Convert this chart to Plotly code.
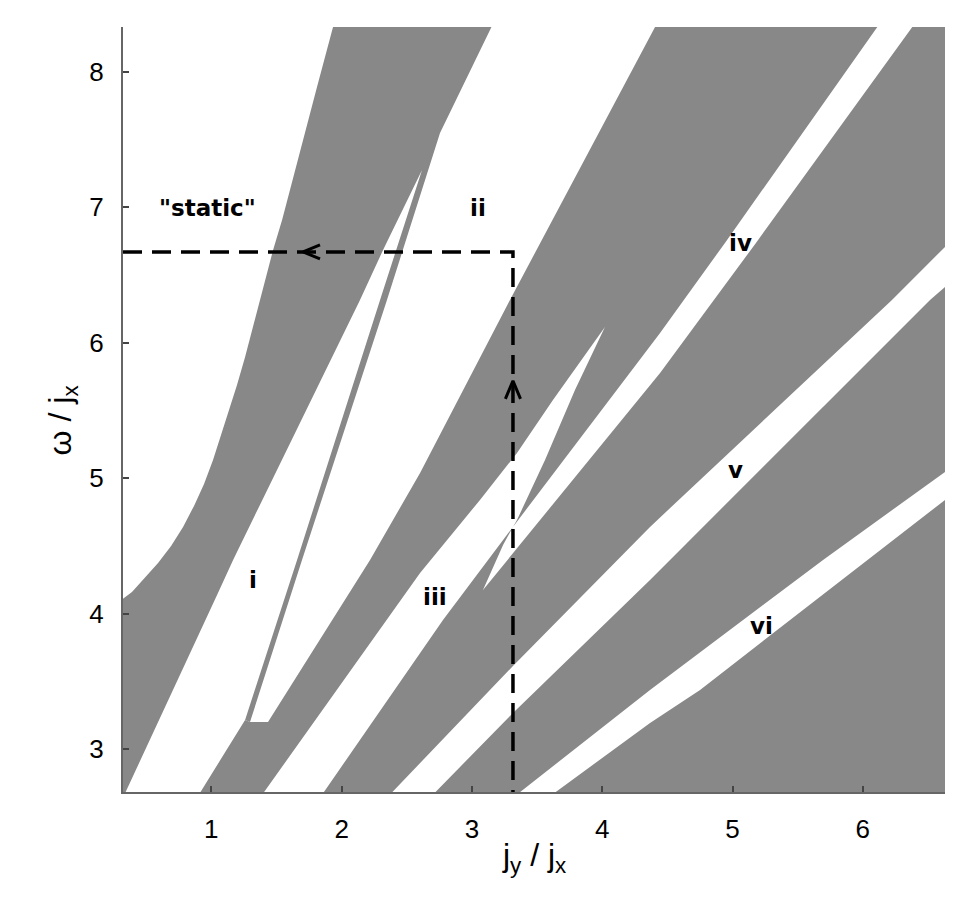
import plotly.graph_objects as go

# axis limits (j_y/j_x horizontally, omega/j_x vertically)
x_lim = [0.322, 6.631]
y_lim = [2.682, 8.332]
x_ticks = [1, 2, 3, 4, 5, 6]
y_ticks = [3, 4, 5, 6, 7, 8]

# gray (unstable) regions, traced as polygons in data units
# band A with the thin spur that joins band B
band_a_x = [0.30, 0.30, 0.391, 0.491, 0.591, 0.691, 0.783, 0.867, 0.944, 1.013, 1.074,
            1.136, 1.197, 1.259, 1.312, 1.366, 1.420, 1.474, 1.543, 1.681, 1.811, 1.934,
            1.934, 3.15, 3.15, 2.755, 2.348, 1.696, 1.297, 1.259, 1.658, 2.295, 2.617,
            2.318, 2.141, 1.167, 1.051, 0.322]
band_a_y = [2.64, 4.093, 4.160, 4.263, 4.374, 4.499, 4.640, 4.795, 4.957, 5.134, 5.312,
            5.496, 5.688, 5.895, 6.095, 6.294, 6.493, 6.685, 6.907, 7.402, 7.889, 8.332,
            8.36, 8.36, 8.332, 7.549, 6.316, 4.396, 3.199, 3.214, 4.396, 6.316, 7.276,
            6.685, 6.316, 4.396, 4.152, 2.64]

# band B, merging above the lens tip with the wedge left of band iv
band_b_x = [0.890, 1.259, 1.297, 1.435, 2.218, 2.602, 3.292, 4.421, 6.132, 4.942, 4.444,
            3.315, 3.346, 3.561, 3.791, 4.021, 3.622, 3.346, 3.062, 2.602, 1.374]
band_b_y = [2.64, 3.214, 3.199, 3.199, 4.396, 5.038, 6.316, 8.36, 8.36, 6.737, 6.072,
            4.640, 4.691, 5.134, 5.651, 6.117, 5.578, 5.186, 4.839, 4.300, 2.64]

# band between iii/iv and v
band_e_x = [1.834, 2.778, 3.315, 3.239, 3.085, 4.444, 5.180, 6.401, 6.66, 6.66, 6.631,
            6.224, 4.367, 3.315, 2.348]
band_e_y = [2.64, 3.953, 4.640, 4.507, 4.174, 5.777, 6.737, 8.36, 8.36, 6.708, 6.708,
            6.316, 4.640, 3.613, 2.64]

# band between v and vi
band_f_x = [2.678, 3.315, 4.367, 6.516, 6.631, 6.66, 6.66, 6.631, 5.695, 4.367, 3.315]
band_f_y = [2.64, 3.266, 4.248, 6.316, 6.412, 6.412, 5.046, 5.046, 4.396, 3.436, 2.64]

# region right of vi
band_g_x = [3.584, 4.367, 4.751, 6.032, 6.631, 6.66, 6.66]
band_g_y = [2.64, 3.192, 3.436, 4.396, 4.839, 4.839, 2.64]

# dashed path and its arrow heads
path_x = [x_lim[0], 3.315, 3.315]
path_y = [6.671, 6.671, y_lim[0]]
arrow_left_x = [1.834, 1.704, 1.834]
arrow_left_y = [6.723, 6.671, 6.619]
arrow_up_x = [3.257, 3.315, 3.373]
arrow_up_y = [5.585, 5.718, 5.585]

# region labels
label_text = ['"static"', 'ii', 'iv', 'v', 'i', 'iii', 'vi']
label_x = [0.97, 3.05, 5.06, 5.02, 1.32, 2.72, 5.22]
label_y = [6.996, 6.996, 6.74, 5.06, 4.25, 4.12, 3.91]

gray = '#888888'

fig = go.Figure()

for bx, by in [(band_a_x, band_a_y), (band_b_x, band_b_y), (band_e_x, band_e_y),
               (band_f_x, band_f_y), (band_g_x, band_g_y)]:
    fig.add_trace(go.Scatter(x=bx, y=by, mode='lines', fill='toself', fillcolor=gray,
                             line=dict(width=0, color=gray), hoverinfo='skip',
                             showlegend=False))

fig.add_trace(go.Scatter(x=path_x, y=path_y, mode='lines',
                         line=dict(color='black', width=3.5, dash='19px,10px'),
                         hoverinfo='skip', showlegend=False))
for ax_, ay_ in [(arrow_left_x, arrow_left_y), (arrow_up_x, arrow_up_y)]:
    fig.add_trace(go.Scatter(x=ax_, y=ay_, mode='lines',
                             line=dict(color='black', width=3),
                             hoverinfo='skip', showlegend=False))

for t, lx, ly in zip(label_text, label_x, label_y):
    fig.add_annotation(x=lx, y=ly, text=t, showarrow=False,
                       font=dict(family='DejaVu Sans', size=23, color='black',
                                 weight='bold'))

# axis titles
title_font = dict(family='Liberation Sans', size=32, color='black')
fig.add_annotation(text='j<sub>y</sub> / j<sub>x</sub>', xref='paper', yref='paper',
                   x=0.5, y=-0.086, yanchor='middle', showarrow=False, font=title_font)
fig.add_annotation(text='ω / j<sub>x</sub>', xref='paper', yref='paper',
                   x=-0.074, y=0.486, xanchor='center', yanchor='middle',
                   textangle=-90, showarrow=False, font=title_font)

axis_font = dict(family='Liberation Sans', size=26, color='black')
fig.update_xaxes(range=x_lim, tickvals=x_ticks, ticks='inside', ticklen=6,
                 tickwidth=1.5, tickcolor='#444444', showline=True, linecolor='#666666',
                 linewidth=2, showgrid=False, zeroline=False, tickfont=axis_font,
                 ticklabelstandoff=13)
fig.update_yaxes(range=y_lim, tickvals=y_ticks, ticks='inside', ticklen=6,
                 tickwidth=1.5, tickcolor='#444444', showline=True, linecolor='#666666',
                 linewidth=2, showgrid=False, zeroline=False, tickfont=axis_font,
                 ticklabelstandoff=12)

# page body adds an 8px margin, so the figure is sized to fit inside the window
fig.update_layout(width=947, height=884, paper_bgcolor='white', plot_bgcolor='white',
                  margin=dict(l=115, r=10, t=19, b=100))

fig.write_html("out.html")
